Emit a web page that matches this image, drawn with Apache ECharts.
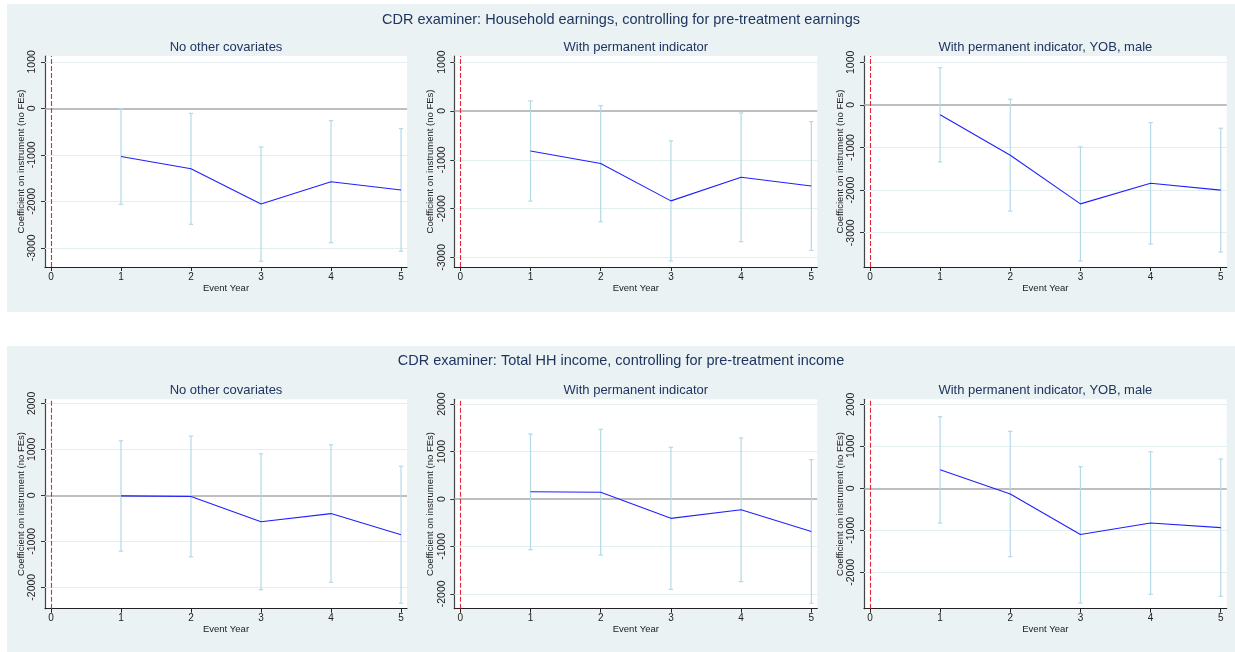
<!DOCTYPE html>
<html>
<head>
<meta charset="utf-8">
<script src="https://cdn.jsdelivr.net/npm/echarts@6/dist/echarts.min.js"></script>
<style>
html,body{margin:0;padding:0;background:#fff;}
#chart{width:1235px;height:652px;}
</style>
</head>
<body>
<div id="chart"></div>
<script>
// ---------- data ----------
const eventYears = [1, 2, 3, 4, 5];
const xTicks = [0, 1, 2, 3, 4, 5];
const yTicksTop = [-3000, -2000, -1000, 0, 1000];
const yTicksBottom = [-2000, -1000, 0, 1000, 2000];

const titleTop = 'CDR examiner: Household earnings, controlling for pre-treatment earnings';
const titleBottom = 'CDR examiner: Total HH income, controlling for pre-treatment income';
const panelTitles = ['No other covariates', 'With permanent indicator', 'With permanent indicator, YOB, male'];
const yAxisTitle = 'Coefficient on instrument (no FEs)';
const xAxisTitle = 'Event Year';

// Household earnings
const earnNoCovCoef = [-1035, -1300, -2060, -1578, -1757];
const earnNoCovLo   = [-2065, -2495, -3290, -2890, -3075];
const earnNoCovHi   = [-5, -108, -832, -266, -438];
const earnPermCoef  = [-820, -1078, -1842, -1358, -1538];
const earnPermLo    = [-1847, -2270, -3074, -2679, -2856];
const earnPermHi    = [204, 109, -613, -41, -218];
const earnFullCoef  = [-229, -1180, -2322, -1838, -2000];
const earnFullLo    = [-1336, -2492, -3663, -3266, -3453];
const earnFullHi    = [874, 133, -984, -414, -547];

// Total HH income
const incNoCovCoef = [-12, -25, -574, -397, -858];
const incNoCovLo   = [-1214, -1338, -2052, -1891, -2349];
const incNoCovHi   = [1188, 1288, 904, 1100, 633];
const incPermCoef  = [152, 143, -408, -227, -684];
const incPermLo    = [-1070, -1181, -1905, -1744, -2200];
const incPermHi    = [1371, 1470, 1090, 1287, 830];
const incFullCoef  = [441, -136, -1100, -826, -937];
const incFullLo    = [-826, -1628, -2731, -2524, -2571];
const incFullHi    = [1705, 1357, 514, 871, 698];

// ---------- layout ----------
const cols = [{left: 45, width: 362}, {left: 454.3, width: 363}, {left: 864, width: 362.7}];
const rows = [{top: 56, height: 211}, {top: 399.3, height: 209.4}];
const yRanges = [
  [-3413, 1125], [-3196, 1125], [-3804, 1148],
  [-2467, 2090], [-2314, 2103], [-2867, 2119]
];
const panels = [
  {coef: earnNoCovCoef, lo: earnNoCovLo, hi: earnNoCovHi, ticks: yTicksTop},
  {coef: earnPermCoef, lo: earnPermLo, hi: earnPermHi, ticks: yTicksTop},
  {coef: earnFullCoef, lo: earnFullLo, hi: earnFullHi, ticks: yTicksTop},
  {coef: incNoCovCoef, lo: incNoCovLo, hi: incNoCovHi, ticks: yTicksBottom},
  {coef: incPermCoef, lo: incPermLo, hi: incPermHi, ticks: yTicksBottom},
  {coef: incFullCoef, lo: incFullLo, hi: incFullHi, ticks: yTicksBottom}
];

const FONT = 'Liberation Sans, Arial, Helvetica, sans-serif';
const TITLE_COLOR = '#1f3560';
const BAND = '#eaf2f3';

const grids = [], xAxes = [], yAxes = [], series = [], graphics = [];

graphics.push({type: 'rect', z: -100, shape: {x: 7, y: 4, width: 1228, height: 308}, style: {fill: BAND}, silent: true});
graphics.push({type: 'rect', z: -100, shape: {x: 7, y: 346, width: 1228, height: 306}, style: {fill: BAND}, silent: true});
graphics.push({type: 'text', x: 621, y: 20, style: {text: titleTop, font: '14.5px ' + FONT, fill: TITLE_COLOR, textAlign: 'center', textVerticalAlign: 'middle'}});
graphics.push({type: 'text', x: 621, y: 361, style: {text: titleBottom, font: '14.5px ' + FONT, fill: TITLE_COLOR, textAlign: 'center', textVerticalAlign: 'middle'}});

function errRender(params, api) {
  const x = api.value(0), lo = api.value(1), hi = api.value(2);
  const a = api.coord([x, lo]), b = api.coord([x, hi]);
  const c = 2.2;
  const st = {stroke: '#b4d9e7', lineWidth: 1.2};
  return {type: 'group', children: [
    {type: 'line', shape: {x1: a[0], y1: a[1], x2: b[0], y2: b[1]}, style: st},
    {type: 'line', shape: {x1: a[0] - c, y1: a[1], x2: a[0] + c, y2: a[1]}, style: st},
    {type: 'line', shape: {x1: b[0] - c, y1: b[1], x2: b[0] + c, y2: b[1]}, style: st}
  ]};
}

panels.forEach((p, i) => {
  const r = rows[Math.floor(i / 3)], c = cols[i % 3];
  grids.push({left: c.left, top: r.top, width: c.width, height: r.height,
    show: true, backgroundColor: '#ffffff', borderWidth: 0, containLabel: false});
  graphics.push({type: 'text', x: c.left + c.width / 2, y: r.top - 9,
    style: {text: panelTitles[i % 3], font: '13px ' + FONT, fill: TITLE_COLOR, textAlign: 'center', textVerticalAlign: 'middle'}});
  xAxes.push({type: 'value', gridIndex: i, min: -0.085, max: 5.085,
    axisLine: {show: true, onZero: false, lineStyle: {color: '#222', width: 1.2}},
    axisTick: {show: true, length: 4, customValues: xTicks, lineStyle: {color: '#222'}},
    axisLabel: {customValues: xTicks, margin: 5, fontSize: 10, color: '#222', fontFamily: FONT, formatter: v => String(v)},
    splitLine: {show: false},
    name: xAxisTitle, nameLocation: 'middle', nameGap: 16,
    nameTextStyle: {fontSize: 9.5, color: '#222', fontFamily: FONT}
  });
  yAxes.push({type: 'value', gridIndex: i, min: yRanges[i][0], max: yRanges[i][1],
    axisLine: {show: true, onZero: false, lineStyle: {color: '#444', width: 1.2}},
    axisTick: {show: true, length: 4, customValues: p.ticks, lineStyle: {color: '#333'}},
    axisLabel: {customValues: p.ticks, rotate: 90, margin: 7, fontSize: 10.5, color: '#222', fontFamily: FONT, formatter: v => String(v)},
    splitLine: {show: false},
    name: yAxisTitle, nameLocation: 'middle', nameGap: 19, nameRotate: 90,
    nameTextStyle: {fontSize: 9.5, color: '#222', fontFamily: FONT}
  });
  // gridlines, zero line, vertical line at event year 0
  const gridLines = p.ticks.filter(t => t !== 0).map(t => ({yAxis: t, lineStyle: {color: '#e4eef1', width: 1, type: 'solid'}}));
  series.push({type: 'line', xAxisIndex: i, yAxisIndex: i, data: [], silent: true, z: 1,
    markLine: {silent: true, z: 1, symbol: ['none', 'none'], label: {show: false}, animation: false,
      data: gridLines.concat([
        {yAxis: 0, lineStyle: {color: '#a8a8a8', width: 1.5, type: 'solid'}},
        {xAxis: 0, lineStyle: {color: '#e3263a', width: 1.1, type: [5, 2]}}
      ])}
  });
  series.push({type: 'custom', xAxisIndex: i, yAxisIndex: i, renderItem: errRender, z: 5,
    encode: {x: 0, y: [1, 2]},
    data: eventYears.map((y, k) => [y, p.lo[k], p.hi[k]]), silent: true});
  series.push({type: 'line', xAxisIndex: i, yAxisIndex: i, z: 10, symbol: 'none',
    lineStyle: {color: '#2020ff', width: 1.1},
    data: eventYears.map((y, k) => [y, p.coef[k]]), silent: true});
});

const chart = echarts.init(document.getElementById('chart'), null, {renderer: 'canvas'});
chart.setOption({
  animation: false,
  backgroundColor: '#ffffff',
  grid: grids, xAxis: xAxes, yAxis: yAxes, series: series, graphic: graphics
});
</script>
</body>
</html>
